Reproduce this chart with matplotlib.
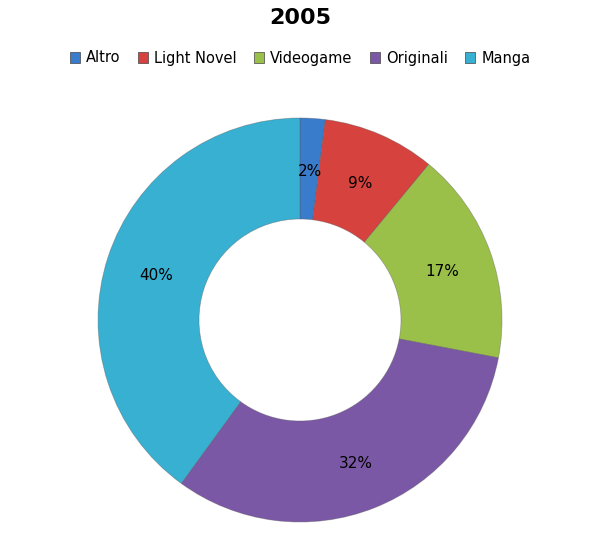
import matplotlib
matplotlib.use("Agg")
import matplotlib.pyplot as plt
from matplotlib.patches import Patch

categories = ["Altro", "Light Novel", "Videogame", "Originali", "Manga"]
values = [2, 9, 17, 32, 40]
colors = ["#3a7ccc", "#d6423e", "#9bc04a", "#7b58a5", "#38b0d2"]
title = "2005"

plt.rcParams['font.family'] = ['DejaVu Sans']

fig = plt.figure(figsize=(6, 5.35), dpi=100)
ax = fig.add_axes([98/600, 13/535, 404/600, 404/535])
wedges, texts, autotexts = ax.pie(
    values, colors=colors, startangle=90, counterclock=False,
    radius=1.0, autopct=lambda p: f"{p:.0f}%", pctdistance=0.75,
    wedgeprops=dict(width=0.5, edgecolor="#55555566", linewidth=0.6),
    textprops=dict(fontsize=11, color="black"))
for t in autotexts:
    x, y = t.get_position()
    t.set_position((x, y - 0.012))
ax.set_xlim(-1, 1)
ax.set_ylim(-1, 1)
ax.set_aspect("equal")
ax.axis("off")

fig.text(0.5, 1 - 18/535, title, ha="center", va="center", fontsize=16, fontweight="bold")
handles = [Patch(facecolor=c, edgecolor="#444444", linewidth=0.5) for c in colors]
fig.legend(handles, categories, loc="center", bbox_to_anchor=(0.5, 1 - 58/535),
           ncol=5, frameon=False, fontsize=10.5, handlelength=0.7, handleheight=0.7,
           handletextpad=0.4, columnspacing=1.2)

fig.savefig("out.png", dpi=100)
